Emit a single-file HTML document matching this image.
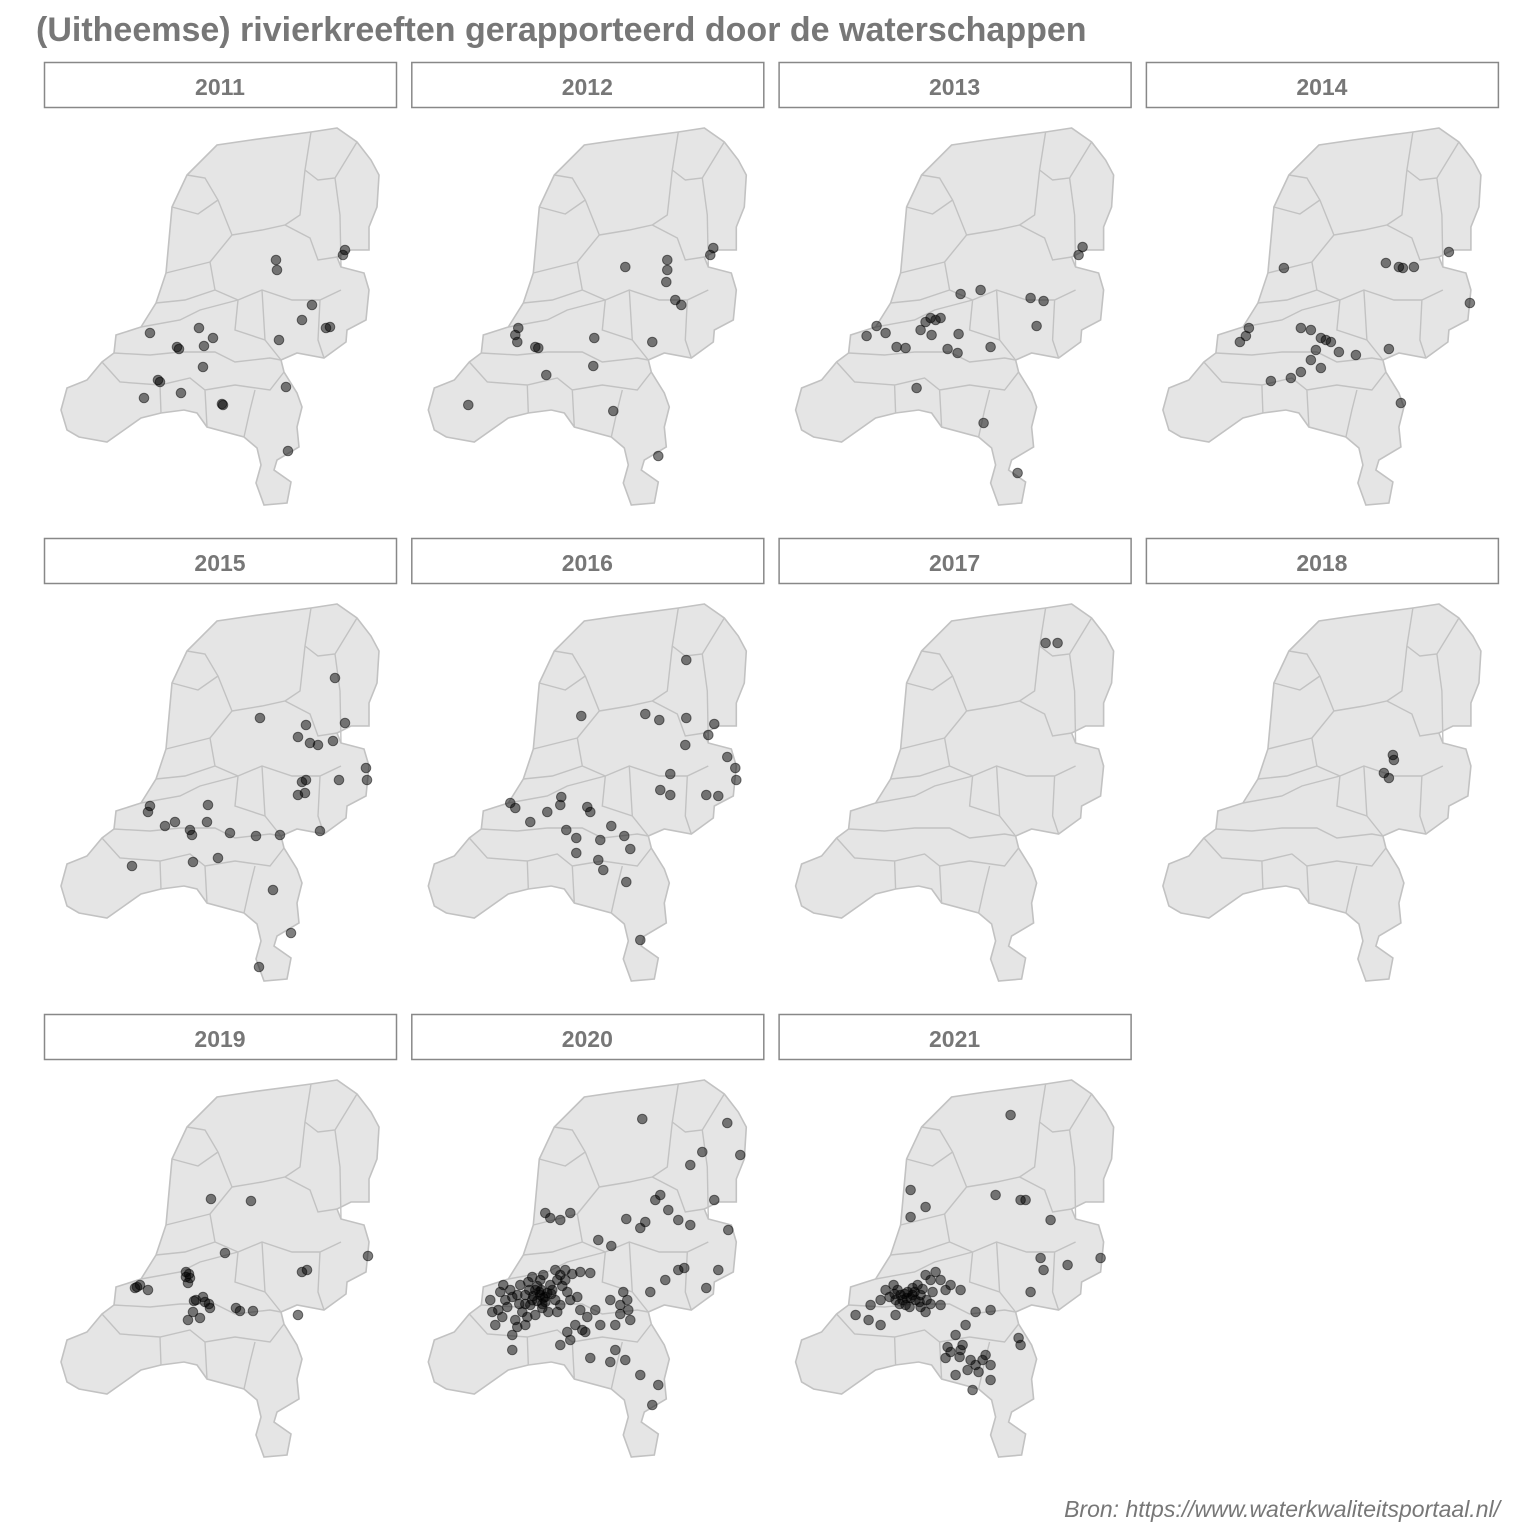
<!DOCTYPE html>
<html><head><meta charset="utf-8"><style>
body{margin:0;background:#fff;}
svg{display:block;font-family:"Liberation Sans",sans-serif;}
</style></head><body>
<svg id="chart" width="1536" height="1536" viewBox="0 0 1536 1536">
<defs>
<g id="nl-map">
<path d="M337,128 L311,132 L251,140 L217,145 L187,175 L172,207 L169,240 L166,273 L156,303 L141,327 L116,335 L114,353 L102,362 L87,380 L67,388 L61,410 L67,430 L79,437 L107,442 L141,418 L161,413 L184,410 L197,413 L207,427 L244,437 L257,448 L261,465 L256,483 L264,505 L287,503 L291,482 L274,470 L277,460 L299,447 L297,427 L302,407 L297,393 L284,372 L281,360 L297,353 L324,358 L346,342 L347,330 L366,320 L369,290 L364,273 L341,267 L337,257 L351,250 L369,250 L369,227 L377,207 L379,175 L371,160 L357,142 Z" fill="#e5e5e5" stroke="#c2c2c2" stroke-width="1.6"/>
<path fill="none" stroke="#c2c2c2" stroke-width="1.4" d="M187,175 L205,178 L218,200 L232,235 L210,262 L215,290 M232,235 L262,230 L285,225 L310,238 L318,260 L337,257 M311,132 L305,170 L318,180 L335,178 L357,142 M305,170 L300,215 L285,225 M335,178 L340,215 L341,267 M172,207 L198,214 L218,200 M166,273 L210,262 M156,303 L185,300 L215,290 L238,300 L262,290 L292,300 L320,300 L341,290 M238,300 L235,330 L265,340 L281,360 M141,327 L180,320 L200,310 L238,300 M114,353 L150,355 L180,352 L215,352 L235,362 L270,358 L281,360 M102,362 L120,382 L160,385 L190,378 L205,390 L235,385 L270,390 L284,372 M205,390 L207,427 M160,385 L161,413 M244,437 L250,410 L255,390 M320,300 L318,340 L324,358 M262,290 L265,340"/>
</g>
</defs>
<text x="36" y="41" font-size="34" font-weight="bold" fill="#777">(Uitheemse) rivierkreeften gerapporteerd door de waterschappen</text>
<g id="panels"></g>
<text x="1500" y="1517" font-size="23" font-style="italic" fill="#777" text-anchor="end">Bron: https://www.waterkwaliteitsportaal.nl/</text>
</svg>
<script>
const years = ["2011","2012","2013","2014","2015","2016","2017","2018","2019","2020","2021"];
// point locations in map units (panel-local map coordinates)
const p2011 = [[345,250],[343,255],[276,260],[277,270],[312,305],[302,320],[330,327],[326,328],[279,340],[150,333],[199,328],[213,338],[177,347],[179,349],[204,346],[203,367],[158,380],[160,382],[144,398],[181,393],[222,404],[223,405],[286,387],[288,451]];
const p2012 = [[346,248],[343,255],[258,267],[300,260],[300,270],[299,282],[308,300],[314,305],[151,328],[148,335],[150,342],[168,347],[171,348],[227,338],[285,342],[226,366],[179,375],[101,405],[246,411],[291,456]];
const p2013 = [[348,247],[344,255],[246,290],[226,294],[296,298],[309,301],[196,318],[191,322],[201,320],[186,330],[142,326],[151,333],[132,336],[162,347],[171,348],[197,335],[224,334],[302,326],[213,349],[223,353],[256,347],[182,388],[249,423],[283,473],[206,318]];
const p2014 = [[182,268],[284,263],[297,267],[301,268],[312,267],[347,252],[368,303],[147,328],[144,336],[138,342],[199,328],[209,330],[219,338],[229,342],[237,352],[214,350],[209,360],[219,368],[199,372],[189,378],[169,381],[254,355],[287,349],[299,403],[224,340]];
const p2015 = [[335,202],[260,242],[306,249],[345,247],[298,261],[310,267],[318,269],[333,265],[302,306],[306,304],[298,319],[305,317],[339,304],[366,292],[367,304],[150,330],[148,336],[175,346],[165,350],[190,354],[192,359],[207,346],[208,329],[230,357],[256,360],[280,359],[320,355],[193,386],[218,382],[132,390],[273,414],[291,457],[259,491]];
const p2016 = [[319,184],[214,240],[278,238],[292,244],[319,242],[347,248],[341,259],[318,269],[360,281],[368,292],[369,304],[303,298],[293,314],[303,319],[339,319],[351,320],[143,327],[148,332],[163,346],[180,336],[193,329],[220,331],[223,336],[199,354],[209,362],[209,377],[233,364],[244,350],[257,360],[263,373],[231,384],[236,394],[259,406],[273,464],[194,321]];
const p2017 = [[311,167],[323,167]];
const p2018 = [[291,279],[292,284],[282,297],[287,302]];
const p2019 = [[368,304],[211,247],[251,249],[225,301],[302,320],[307,318],[135,336],[140,333],[148,338],[186,320],[188,331],[190,326],[196,348],[205,350],[210,356],[193,360],[188,368],[200,366],[236,356],[240,359],[253,359],[298,363],[203,345],[186,325],[189,322],[137,335],[194,349],[209,352]];
const p2020 = [[275,167],[335,200],[360,171],[373,203],[323,213],[288,248],[293,243],[301,258],[347,248],[361,278],[323,273],[311,268],[278,270],[273,276],[259,267],[193,268],[203,261],[183,266],[178,261],[244,294],[231,288],[317,316],[311,318],[298,328],[351,318],[339,336],[283,340],[223,321],[213,320],[193,323],[173,343],[178,345],[168,338],[183,333],[188,348],[158,343],[163,353],[153,333],[143,338],[138,348],[131,358],[123,348],[128,373],[148,368],[158,373],[168,363],[181,360],[193,353],[203,348],[213,358],[208,373],[218,380],[233,373],[228,358],[243,348],[253,353],[261,358],[263,368],[248,373],[198,328],[176,323],[161,330],[145,383],[145,398],[193,393],[223,406],[243,410],[258,408],[273,423],[291,433],[285,453],[248,398],[203,388],[188,318],[173,328],[165,348],[172,340],[176,346],[170,349],[180,341],[174,338],[166,344],[178,350],[184,342],[170,334],[162,338],[175,352],[185,338],[190,328],[195,334],[150,343],[140,355],[133,340],[136,333],[155,360],[160,365],[150,375],[135,365],[125,360],[200,340],[210,345],[220,365],[215,378],[200,380],[253,362],[260,348],[256,340],[198,318],[205,322],[165,325],[145,345],[152,352],[175,356],[190,360],[158,352]];
const p2021 = [[276,163],[176,238],[176,265],[191,255],[261,243],[286,248],[291,248],[316,268],[306,306],[309,318],[366,306],[333,313],[296,340],[176,346],[166,343],[181,348],[171,353],[161,348],[186,343],[151,338],[146,348],[136,353],[191,323],[201,320],[216,333],[211,338],[226,338],[206,353],[191,360],[161,363],[146,373],[134,368],[121,363],[241,360],[256,358],[231,373],[221,383],[228,393],[216,400],[211,406],[236,408],[241,413],[251,403],[256,413],[244,420],[256,428],[238,438],[221,423],[284,386],[286,393],[206,328],[159,333],[172,346],[178,343],[168,348],[173,340],[180,340],[185,350],[175,355],[165,352],[170,342],[160,342],[188,337],[183,333],[192,348],[155,345],[178,336],[163,338],[196,328],[198,340],[196,352],[186,355],[213,395],[225,405],[233,418],[248,408],[226,398]];
const pointSets = [p2011,p2012,p2013,p2014,p2015,p2016,p2017,p2018,p2019,p2020,p2021];

const NS = "http://www.w3.org/2000/svg";
const colX = c => c * 367.3;
const rowY = r => r * 476;
const projX = (v, c) => v + colX(c);
const projY = (v, r) => v + rowY(r);
const root = document.getElementById("panels");
years.forEach((yr, i) => {
  const c = i % 4, r = Math.floor(i / 4);
  const g = document.createElementNS(NS, "g");
  
  
  const strip = document.createElementNS(NS, "rect");
  
  
  strip.setAttribute("x", 44.5 + colX(c)); strip.setAttribute("y", 62.5 + rowY(r));
  strip.setAttribute("width", 352); strip.setAttribute("height", 45);
  strip.setAttribute("fill", "#fff"); strip.setAttribute("stroke", "#888"); strip.setAttribute("stroke-width", "1.5");
  g.appendChild(strip);
  const t = document.createElementNS(NS, "text");
  
  
  t.setAttribute("x", 220 + colX(c)); t.setAttribute("y", 95 + rowY(r));
  t.setAttribute("text-anchor", "middle"); t.setAttribute("font-size", "23");
  t.setAttribute("font-weight", "bold"); t.setAttribute("fill", "#777");
  t.textContent = yr;
  g.appendChild(t);
  const m = document.createElementNS(NS, "use");
  
  
  m.setAttribute("href", "#nl-map");
  m.setAttribute("transform", "translate(" + colX(c) + "," + rowY(r) + ")");
  g.appendChild(m);
  pointSets[i].forEach(p => {
    const d = document.createElementNS(NS, "circle");
    
    
    d.setAttribute("cx", projX(p[0], c)); d.setAttribute("cy", projY(p[1], r));
    d.setAttribute("r", 4.8); d.setAttribute("fill", "rgba(0,0,0,0.5)");
    d.setAttribute("stroke", "rgba(0,0,0,0.5)"); d.setAttribute("stroke-width", "1");
    g.appendChild(d);
  });
  root.appendChild(g);
});
</script>
</body></html>
